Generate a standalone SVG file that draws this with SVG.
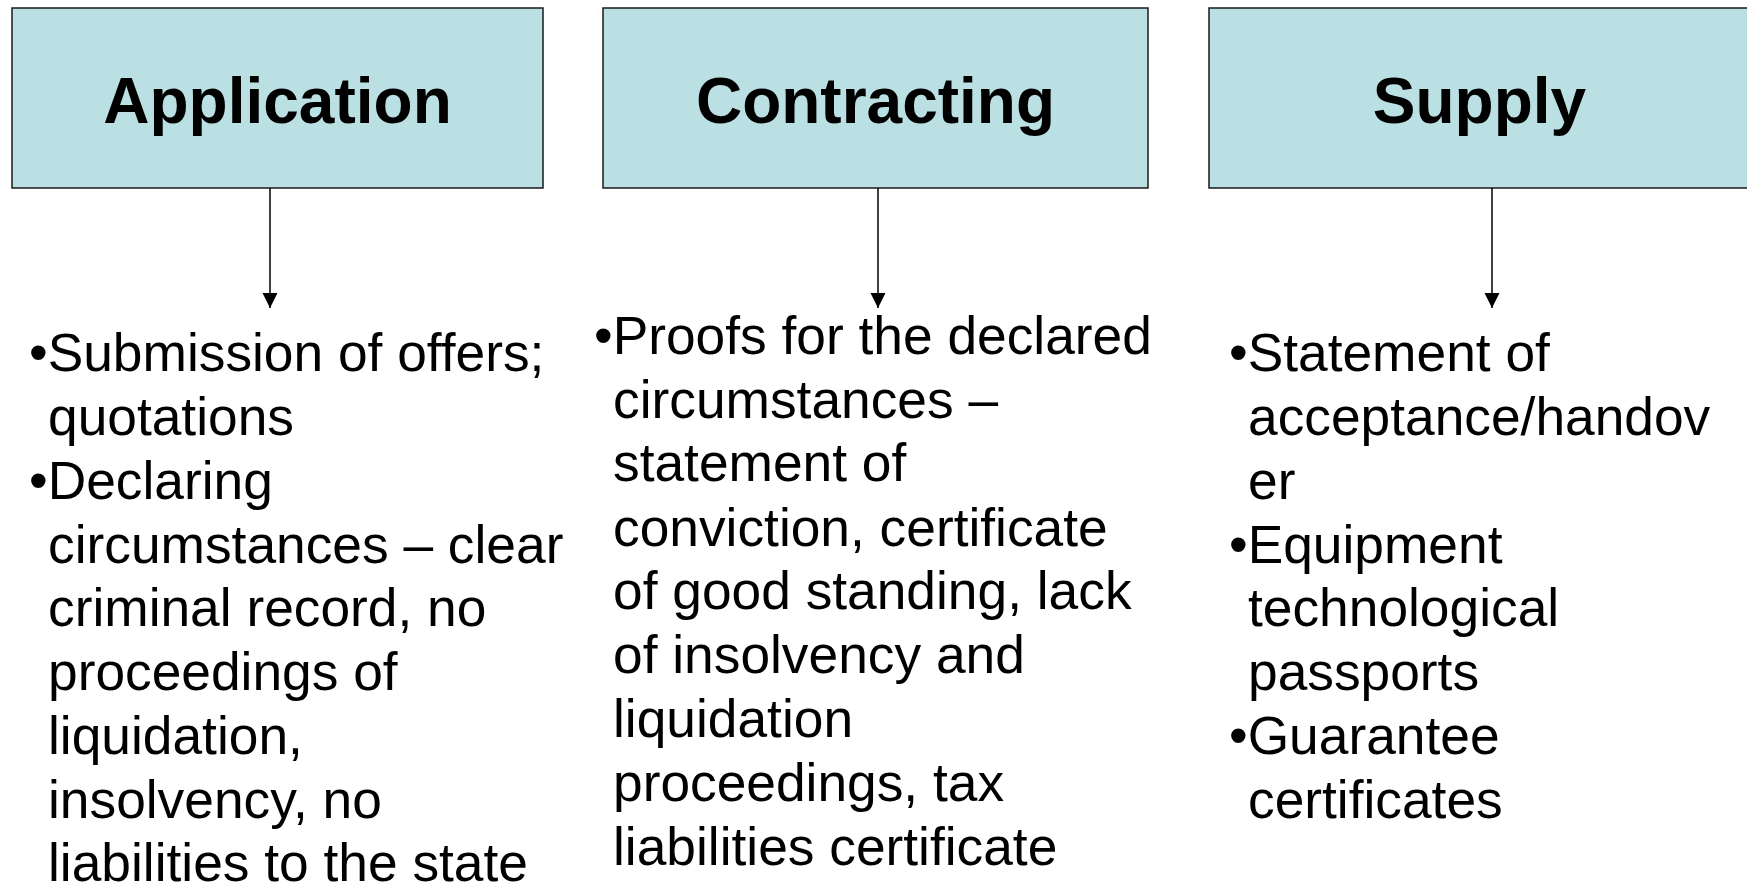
<svg xmlns="http://www.w3.org/2000/svg" width="1747" height="885" viewBox="0 0 1747 885">
<defs>
<style>
.box{fill:#BBE0E3;stroke:#1a1a1a;stroke-width:1.5}
.title{font-family:"Liberation Sans",Arial,sans-serif;font-weight:bold;font-size:64px;fill:#000;text-anchor:middle}
.body{font-family:"Liberation Sans",Arial,sans-serif;font-size:53.3px;fill:#000}
.conn{stroke:#000;stroke-width:1.5;fill:none;marker-end:url(#ah)}
</style>
<marker id="ah" markerWidth="16" markerHeight="16" refX="15" refY="7.5" orient="auto" markerUnits="userSpaceOnUse">
<path d="M0,0 L15,7.5 L0,15 Z" fill="#000"/>
</marker>
</defs>
<rect width="1747" height="885" fill="#fff"/>
<g id="node-application">
<rect class="box" x="12" y="8" width="531" height="180"/>
<text class="title" x="277.5" y="122.5">Application</text>
</g>
<g id="node-contracting">
<rect class="box" x="603" y="8" width="545" height="180"/>
<text class="title" x="875.5" y="122.5">Contracting</text>
</g>
<g id="node-supply">
<rect class="box" x="1209" y="8" width="543" height="180"/>
<text class="title" x="1479.5" y="122.5">Supply</text>
</g>
<g id="connectors">
<line class="conn" x1="270" y1="188" x2="270" y2="308"/>
<line class="conn" x1="878" y1="188" x2="878" y2="308"/>
<line class="conn" x1="1492" y1="188" x2="1492" y2="308"/>
</g>
<g id="text-application">
<text class="body"><tspan x="29" y="371">•Submission of offers;</tspan><tspan x="48" y="435">quotations</tspan><tspan x="29" y="499">•Declaring</tspan><tspan x="48" y="563">circumstances – clear</tspan><tspan x="48" y="626">criminal record, no</tspan><tspan x="48" y="690">proceedings of</tspan><tspan x="48" y="754">liquidation,</tspan><tspan x="48" y="818">insolvency, no</tspan><tspan x="48" y="881">liabilities to the state</tspan></text>
</g>
<g id="text-contracting">
<text class="body"><tspan x="594" y="354">•Proofs for the declared</tspan><tspan x="613" y="418">circumstances –</tspan><tspan x="613" y="481">statement of</tspan><tspan x="613" y="546">conviction, certificate</tspan><tspan x="613" y="609">of good standing, lack</tspan><tspan x="613" y="673">of insolvency and</tspan><tspan x="613" y="737">liquidation</tspan><tspan x="613" y="801">proceedings, tax</tspan><tspan x="613" y="865">liabilities certificate</tspan></text>
</g>
<g id="text-supply">
<text class="body"><tspan x="1229" y="371">•Statement of</tspan><tspan x="1248" y="435">acceptance/handov</tspan><tspan x="1248" y="499">er</tspan><tspan x="1229" y="563">•Equipment</tspan><tspan x="1248" y="626">technological</tspan><tspan x="1248" y="690">passports</tspan><tspan x="1229" y="754">•Guarantee</tspan><tspan x="1248" y="818">certificates</tspan></text>
</g>
</svg>
